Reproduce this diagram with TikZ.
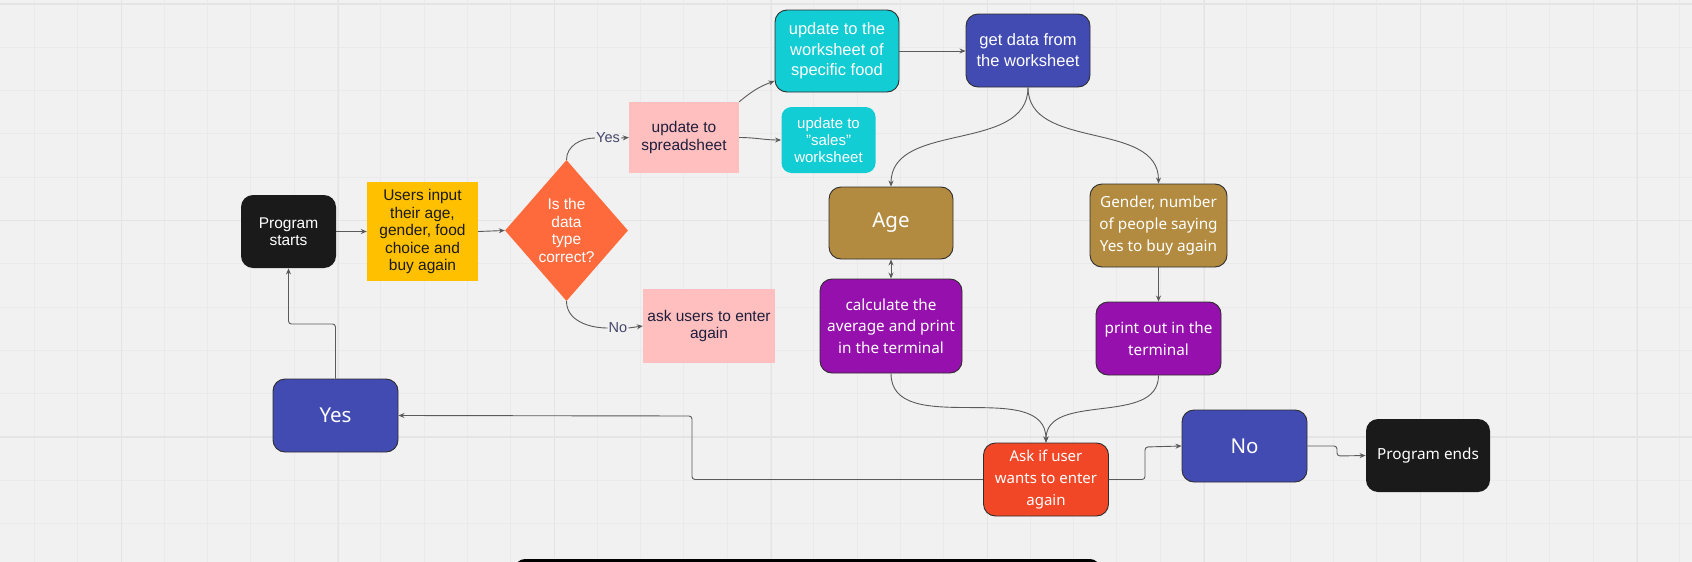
\documentclass[tikz,border=0pt]{standalone}
\usepackage{fontspec}
\setmainfont{Liberation Sans}
\newfontfamily\noto{Noto Sans}
\usetikzlibrary{arrows.meta,shapes.geometric}
\definecolor{bgc}{HTML}{F1F1F1}
\definecolor{gridminor}{HTML}{EAEAEA}
\definecolor{gridmajor}{HTML}{E4E4E4}
\definecolor{blk}{HTML}{1A1A1A}
\definecolor{yel}{HTML}{FFC000}
\definecolor{dorange}{HTML}{FF6A3D}
\definecolor{pinkc}{HTML}{FFBFBF}
\definecolor{cyanc}{HTML}{12CDD4}
\definecolor{bluec}{HTML}{414BB2}
\definecolor{brownc}{HTML}{B38B40}
\definecolor{purplec}{HTML}{9510AC}
\definecolor{redc}{HTML}{F24726}
\definecolor{navytext}{HTML}{1E1E3C}
\definecolor{lbltext}{HTML}{45456A}
\definecolor{linec}{HTML}{5A5A5A}
\definecolor{edgec}{HTML}{2E2E2E}
\tikzset{
  rbox/.style={align=center, inner sep=0pt, rounded corners=12pt, draw=edgec, line width=0.9pt},
  sq/.style={align=center, inner sep=0pt, text=navytext},
  arialA/.style={font=\fontsize{15.5}{17.5}\selectfont},
  arialB/.style={font=\fontsize{16.5}{21}\selectfont},
  notoA/.style={font=\noto\fontsize{15.3}{21.7}\selectfont},
  notoB/.style={font=\noto\fontsize{20.5}{24}\selectfont},
  conn/.style={draw=linec, line width=0.9pt},
  arr/.style={conn, -{Stealth[length=6pt,width=5pt]}},
  darr/.style={conn, {Stealth[length=6pt,width=5pt]}-{Stealth[length=6pt,width=5pt]}},
  lbl/.style={inner sep=1pt, text=lbltext, font=\fontsize{14.5}{16}\selectfont},
  minorline/.style={draw=gridminor, line width=0.9pt},
  majorline/.style={draw=gridmajor, line width=1.3pt}
}
\begin{document}
\begin{tikzpicture}[x=1pt,y=-1pt]
\useasboundingbox (0,0) rectangle (1692,562);
\clip (0,0) rectangle (1692,562);
\fill[bgc] (0,0) rectangle (1692,562);
% grid
\foreach \i in {0,...,38} \draw[minorline] ({34.4+43.3*\i},0) -- ++(0,562);
\foreach \i in {0,...,13} \draw[minorline] (0,{4+43.3*\i}) -- ++(1692,0);
\foreach \i in {0,...,7} \draw[majorline] ({121.7+216.5*\i},0) -- ++(0,562);
\foreach \i in {0,...,2} \draw[majorline] (0,{4+216.5*\i}) -- ++(1692,0);
% bottom bar (partially visible)
\fill[black, rounded corners=10pt] (515,559) rectangle (1100,600);

% nodes
\node[rbox, draw=none, fill=blk, text=white, minimum width=95pt, minimum height=73pt, font=\fontsize{15.5}{17}\selectfont] (start) at (288.5,231.5) {Program\\starts};
\node[sq, fill=yel, text=blk, arialA, minimum width=111pt, minimum height=99pt] (input) at (422.5,231.5) {Users input\\their age,\\gender, food\\choice and\\buy again};
\node[diamond, fill=dorange, inner sep=0pt, minimum width=123pt, minimum height=141pt,
  label={[align=center, text=white, font=\fontsize{15.5}{17.7}\selectfont]center:Is the\\data\\type\\correct?}] (dia) at (566.5,230.5) {};
\node[lbl] (yeslbl) at (608,138) {Yes};
\node[lbl] (nolbl) at (618,328) {No};
\node[sq, fill=pinkc, minimum width=110pt, minimum height=71pt, font=\fontsize{15.5}{17.3}\selectfont] (spread) at (684,137.5) {update to\\spreadsheet};
\node[sq, fill=pinkc, minimum width=132pt, minimum height=74pt, font=\fontsize{15.5}{16.7}\selectfont] (ask) at (709,326) {ask users to enter\\again};
\node[rbox, fill=cyanc, text=white, minimum width=124pt, minimum height=82pt, font=\fontsize{16.5}{20.5}\selectfont] (food) at (837,51) {update to the\\worksheet of\\specific food};
\node[rbox, draw=none, fill=cyanc, text=white, rounded corners=10pt, minimum width=94pt, minimum height=66pt, font=\fontsize{15}{16.7}\selectfont] (sales) at (828.5,140) {update to\\"sales"\\worksheet};
\node[rbox, fill=bluec, text=white, arialB, minimum width=124pt, minimum height=73pt] (getdata) at (1028,50.5) {get data from\\the worksheet};
\node[rbox, fill=brownc, text=white, notoB, minimum width=124pt, minimum height=72pt] (age) at (891,223) {Age};
\node[rbox, fill=brownc, text=white, notoA, minimum width=137pt, minimum height=83pt] (gender) at (1158.5,225.5) {Gender, number\\of people saying\\Yes to buy again};
\node[rbox, fill=purplec, text=white, notoA, minimum width=142pt, minimum height=94pt] (calc) at (891,326) {calculate the\\average and print\\in the terminal};
\node[rbox, fill=purplec, text=white, notoA, minimum width=125pt, minimum height=73pt] (print) at (1158.5,338.5) {print out in the\\terminal};
\node[rbox, fill=redc, text=white, minimum width=125pt, minimum height=73pt, font=\noto\fontsize{15}{21.7}\selectfont] (askq) at (1046,479.5) {Ask if user\\wants to enter\\again};
\node[rbox, fill=bluec, text=white, notoB, minimum width=125pt, minimum height=73pt] (yes) at (335.5,415.5) {Yes};
\node[rbox, fill=bluec, text=white, notoB, minimum width=125pt, minimum height=72pt] (no) at (1244.5,446) {No};
\node[rbox, draw=none, fill=blk, text=white, minimum width=124pt, minimum height=73pt, font=\noto\fontsize{15.3}{18}\selectfont] (end) at (1428,455.5) {Program ends};

% helper coordinates
\coordinate (r1) at (692,416);
\coordinate (r2) at (335.5,324);
\coordinate (r3) at (1145,447);
\coordinate (r4) at (1337,456);

% connectors
\draw[arr] (start.east) -- (input.west);
\draw[arr] (input.east) -- (dia.west);
\draw[conn] (dia.north) to[out=90,in=180] (yeslbl.west);
\draw[arr] (yeslbl.east) -- (spread.west);
\draw[conn] (dia.south) to[out=-90,in=180] (nolbl.west);
\draw[arr] (nolbl.east) -- (ask.west);
\draw[arr] (spread.north east) to[out=40,in=200] ([yshift=-30pt]food.west);
\draw[arr] (spread.east) to[out=0,in=180] (sales.west);
\draw[arr] (food.east) -- (food.east -| getdata.west);
\draw[arr] (getdata.south) to[out=-90,in=90] (age.north);
\draw[arr] (getdata.south) to[out=-90,in=90] (gender.north);
\draw[darr] (age.south) -- (calc.north);
\draw[arr] (gender.south) -- (print.north);
\draw[arr] (calc.south) to[out=-90,in=90] (askq.north);
\draw[arr] (print.south) to[out=-90,in=90] (askq.north);
\draw[arr, rounded corners=3pt] (askq.east) -| (r3) -- (no.west);
\draw[arr, rounded corners=3pt] (no.east) -| (r4) -- (end.west);
\draw[arr, rounded corners=3pt] (askq.west) -| (r1) -- (yes.east);
\draw[arr, rounded corners=3pt] (yes.north) -- (r2) -| (start.south);
\end{tikzpicture}
\end{document}
